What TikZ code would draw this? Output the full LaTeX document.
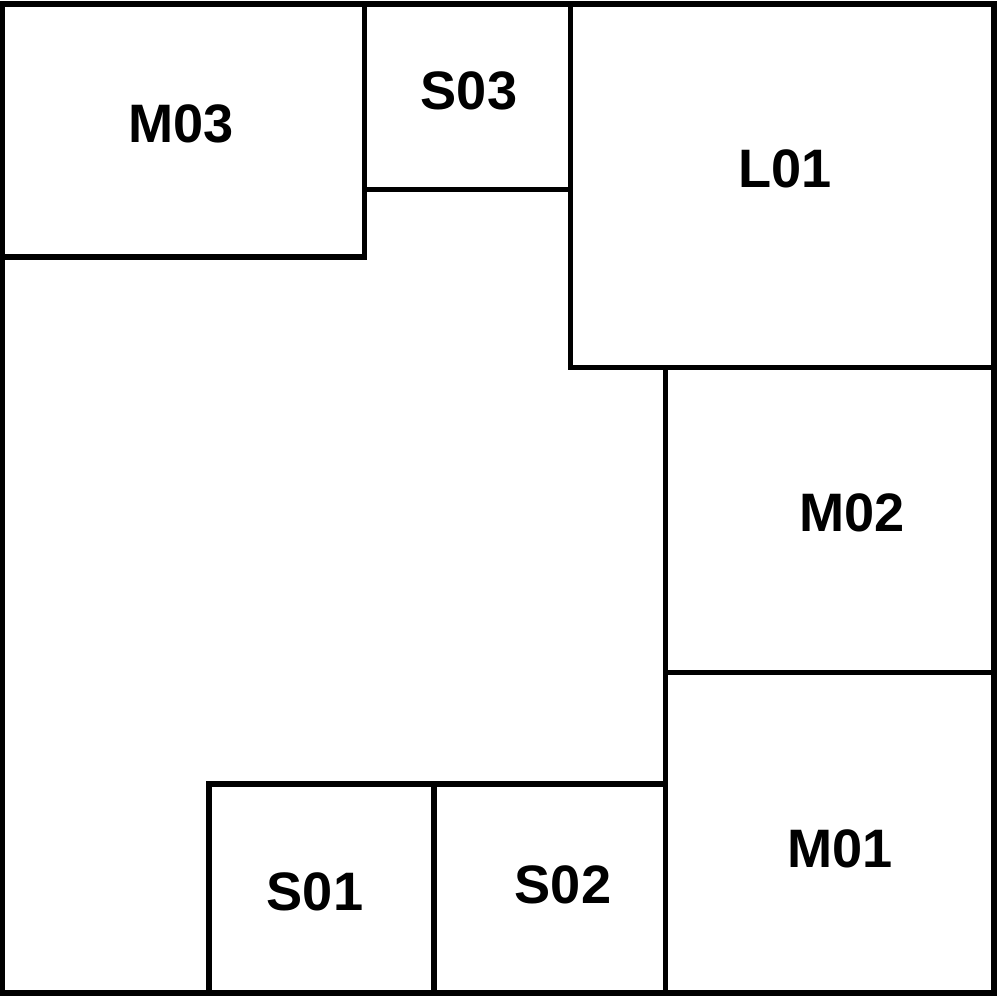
\documentclass[tikz,border=0pt]{standalone}
\usepackage{fontspec}
\setmainfont{Liberation Sans}
\begin{document}
\begin{tikzpicture}[x=0.01cm,y=-0.01cm,
  wall/.style={draw=black,line width=1.5pt,line join=miter},
  lbl/.style={font=\fontsize{15.4pt}{17pt}\selectfont\bfseries,inner sep=0pt,anchor=center}]
\useasboundingbox (0,0) rectangle (1000,1000);
\draw[wall] (2.5,4) rectangle (994,993);
\draw[wall] (2.5,4) rectangle (364.5,257);
\draw[wall] (364.5,4) rectangle (570.5,189.5);
\draw[wall] (570.5,4) rectangle (994,367.5);
\draw[wall] (665.5,367.5) rectangle (994,672.5);
\draw[wall] (665.5,672.5) rectangle (994,993);
\draw[wall] (209,784) rectangle (434,993);
\draw[wall] (434,784) rectangle (665.5,993);
\node[lbl] (m03) at (181,124) {M03};
\node[lbl] (s03) at (469,91) {S03};
\node[lbl] (l01) at (785,169) {L01};
\node[lbl] (m02) at (852,513) {M02};
\node[lbl] (s01) at (315,892) {S01};
\node[lbl] (s02) at (563,885) {S02};
\node[lbl] (m01) at (840,849) {M01};
\end{tikzpicture}
\end{document}
